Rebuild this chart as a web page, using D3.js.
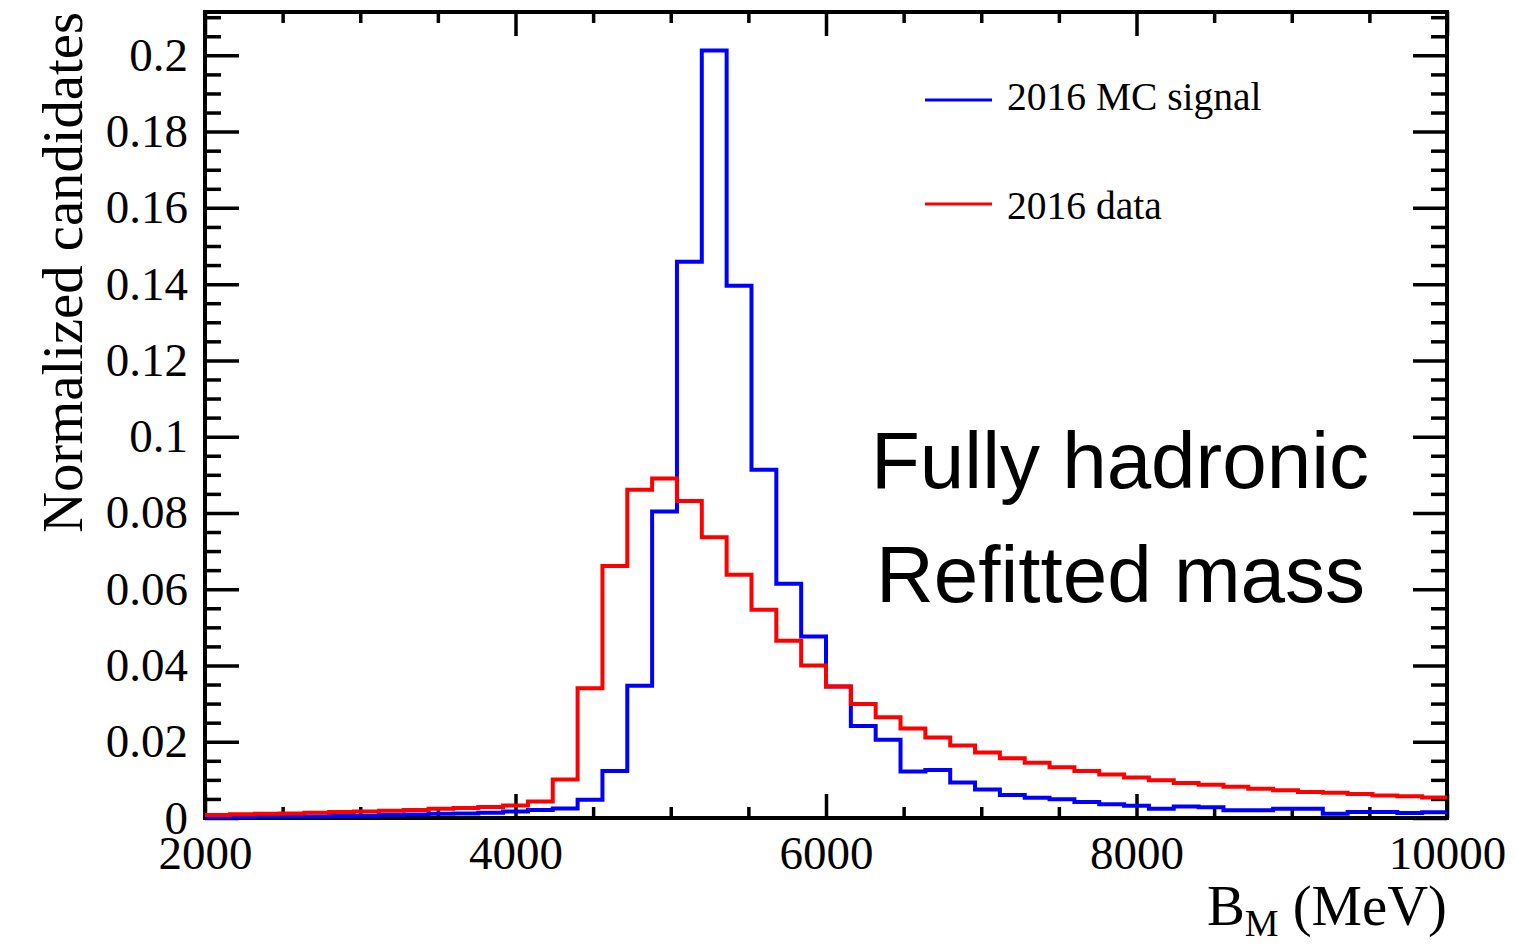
<!DOCTYPE html>
<html>
<head>
<meta charset="utf-8">
<script src="https://cdn.jsdelivr.net/npm/d3@7"></script>
<style>
  body { margin: 0; background: #ffffff; }
  svg { display: block; }
</style>
</head>
<body>
<svg id="chart" width="1516" height="945"></svg>
<script>
// Histogram binning: 50 bins of 160 MeV over the B mass range
const massRange = [2000, 10000];
const nBins = 50;

// Normalized bin contents, one entry per bin
const mcSignal = [
  0.0002, 0.0002, 0.0003, 0.0003, 0.0004, 0.0005, 0.0006, 0.0008, 0.0009, 0.0011,
  0.0012, 0.0014, 0.0017, 0.0021, 0.0025, 0.0048, 0.0123, 0.0347, 0.0804, 0.1459,
  0.2013, 0.1396, 0.0913, 0.0614, 0.0476, 0.0345, 0.0241, 0.0205, 0.0122, 0.0126,
  0.0093, 0.0075, 0.0060, 0.0053, 0.0049, 0.0042, 0.0036, 0.0032, 0.0024, 0.0030,
  0.0028, 0.0020, 0.0020, 0.0024, 0.0024, 0.0011, 0.0016, 0.0016, 0.0013, 0.0015
];
const data2016 = [
  0.0008, 0.0010, 0.0011, 0.0012, 0.0014, 0.0016, 0.0017, 0.0019, 0.0021, 0.0024,
  0.0026, 0.0029, 0.0033, 0.0043, 0.0101, 0.0340, 0.0661, 0.0861, 0.0890, 0.0831,
  0.0736, 0.0638, 0.0546, 0.0465, 0.0400, 0.0345, 0.0299, 0.0264, 0.0235, 0.0211,
  0.0190, 0.0172, 0.0157, 0.0145, 0.0133, 0.0123, 0.0114, 0.0106, 0.0099, 0.0092,
  0.0087, 0.0082, 0.0077, 0.0073, 0.0068, 0.0066, 0.0063, 0.0059, 0.0057, 0.0054
];

const xTickLabels = [2000, 4000, 6000, 8000, 10000];
const yTickLabels = [0, 0.02, 0.04, 0.06, 0.08, 0.1, 0.12, 0.14, 0.16, 0.18, 0.2];
const legendLabels = ["2016 MC signal", "2016 data"];
const seriesColors = ["#0000ff", "#ff0000"];
const annotationLines = ["Fully hadronic", "Refitted mass"];
const xTitle = { main: "B", sub: "M", rest: " (MeV)" };
const yTitle = "Normalized candidates";

// ---- layout ----
const serif = "'Liberation Serif', 'Times New Roman', Times, serif";
const sans = "'Liberation Sans', Arial, Helvetica, sans-serif";
const frame = { left: 205, right: 1447, top: 12, bottom: 818 };

const svg = d3.select("#chart");
svg.append("rect").attr("width", 1516).attr("height", 945).attr("fill", "#ffffff");

const x = d3.scaleLinear().domain(massRange).range([frame.left, frame.right]);
const yMax = 1.05 * d3.max(mcSignal);
const y = d3.scaleLinear().domain([0, yMax]).range([frame.bottom, frame.top]);

const binWidth = (massRange[1] - massRange[0]) / nBins;

const yFmt = d => (d === 0 ? "0" : String(+d.toFixed(2)));

const xMinor = x.ticks(16).filter(v => !xTickLabels.includes(v));
const yMinor = y.ticks(40).filter(v => !yTickLabels.some(t => Math.abs(t - v) < 1e-9));

function styleAxis(g, withText) {
  g.select(".domain").remove();
  g.selectAll(".tick line").attr("stroke", "#000").attr("stroke-width", 3.5);
  if (withText) {
    g.attr("font-family", serif).attr("font-size", 47);
    g.selectAll(".tick text").attr("fill", "#000");
  } else {
    g.selectAll(".tick text").remove();
  }
}

// bottom axis
svg.append("g")
  .attr("transform", `translate(0,${frame.bottom})`)
  .call(d3.axisBottom(x).tickValues(xTickLabels).tickSizeInner(-24).tickSizeOuter(0)
    .tickPadding(18).tickFormat(d3.format("d")))
  .call(g => styleAxis(g, true));
svg.append("g")
  .attr("transform", `translate(0,${frame.bottom})`)
  .call(d3.axisBottom(x).tickValues(xMinor).tickSizeInner(-11).tickSizeOuter(0))
  .call(g => styleAxis(g, false));

// top axis
svg.append("g")
  .attr("transform", `translate(0,${frame.top})`)
  .call(d3.axisTop(x).tickValues(xTickLabels).tickSizeInner(-24).tickSizeOuter(0))
  .call(g => styleAxis(g, false));
svg.append("g")
  .attr("transform", `translate(0,${frame.top})`)
  .call(d3.axisTop(x).tickValues(xMinor).tickSizeInner(-11).tickSizeOuter(0))
  .call(g => styleAxis(g, false));

// left axis
svg.append("g")
  .attr("transform", `translate(${frame.left},0)`)
  .call(d3.axisLeft(y).tickValues(yTickLabels).tickSizeInner(-34).tickSizeOuter(0)
    .tickPadding(17).tickFormat(yFmt))
  .call(g => styleAxis(g, true));
svg.append("g")
  .attr("transform", `translate(${frame.left},0)`)
  .call(d3.axisLeft(y).tickValues(yMinor).tickSizeInner(-16).tickSizeOuter(0))
  .call(g => styleAxis(g, false));

// right axis
svg.append("g")
  .attr("transform", `translate(${frame.right},0)`)
  .call(d3.axisRight(y).tickValues(yTickLabels).tickSizeInner(-34).tickSizeOuter(0))
  .call(g => styleAxis(g, false));
svg.append("g")
  .attr("transform", `translate(${frame.right},0)`)
  .call(d3.axisRight(y).tickValues(yMinor).tickSizeInner(-16).tickSizeOuter(0))
  .call(g => styleAxis(g, false));

// frame
svg.append("rect")
  .attr("x", frame.left).attr("y", frame.top)
  .attr("width", frame.right - frame.left).attr("height", frame.bottom - frame.top)
  .attr("fill", "none").attr("stroke", "#000").attr("stroke-width", 4);

// histogram outlines
const stepLine = d3.line()
  .x(d => x(d[0]))
  .y(d => y(d[1]))
  .curve(d3.curveStepAfter);

function outline(values) {
  const pts = values.map((v, i) => [massRange[0] + i * binWidth, v]);
  pts.push([massRange[1], values[values.length - 1]]);
  return pts;
}

[mcSignal, data2016].forEach((vals, i) => {
  svg.append("path")
    .attr("d", stepLine(outline(vals)))
    .attr("fill", "none")
    .attr("stroke", seriesColors[i])
    .attr("stroke-width", 4)
    .attr("stroke-linejoin", "miter")
    .attr("stroke-linecap", "butt");
});

// legend
const legendRows = [
  { line: 100, text: 110 },
  { line: 204, text: 219 }
];
legendLabels.forEach((lab, i) => {
  svg.append("line")
    .attr("x1", 925).attr("x2", 992)
    .attr("y1", legendRows[i].line).attr("y2", legendRows[i].line)
    .attr("stroke", seriesColors[i]).attr("stroke-width", 3);
  svg.append("text")
    .attr("x", 1007).attr("y", legendRows[i].text)
    .attr("font-family", serif).attr("font-size", 39.5)
    .attr("fill", "#000")
    .text(lab);
});

// annotation
const annoPos = [{ x: 871, y: 488 }, { x: 876, y: 602 }];
annotationLines.forEach((t, i) => {
  svg.append("text")
    .attr("x", annoPos[i].x).attr("y", annoPos[i].y)
    .attr("font-family", sans).attr("font-size", 80)
    .attr("fill", "#000")
    .text(t);
});

// axis titles
const xt = svg.append("text")
  .attr("x", frame.right).attr("y", 925)
  .attr("text-anchor", "end")
  .attr("font-family", serif).attr("font-size", 56.7)
  .attr("fill", "#000");
xt.append("tspan").text(xTitle.main);
xt.append("tspan").attr("font-size", 38).attr("dy", 11).text(xTitle.sub);
xt.append("tspan").attr("dy", -11).text(xTitle.rest);

svg.append("text")
  .attr("transform", `translate(82,${frame.top}) rotate(-90)`)
  .attr("text-anchor", "end")
  .attr("font-family", serif).attr("font-size", 56.7)
  .attr("fill", "#000")
  .text(yTitle);
</script>
</body>
</html>
